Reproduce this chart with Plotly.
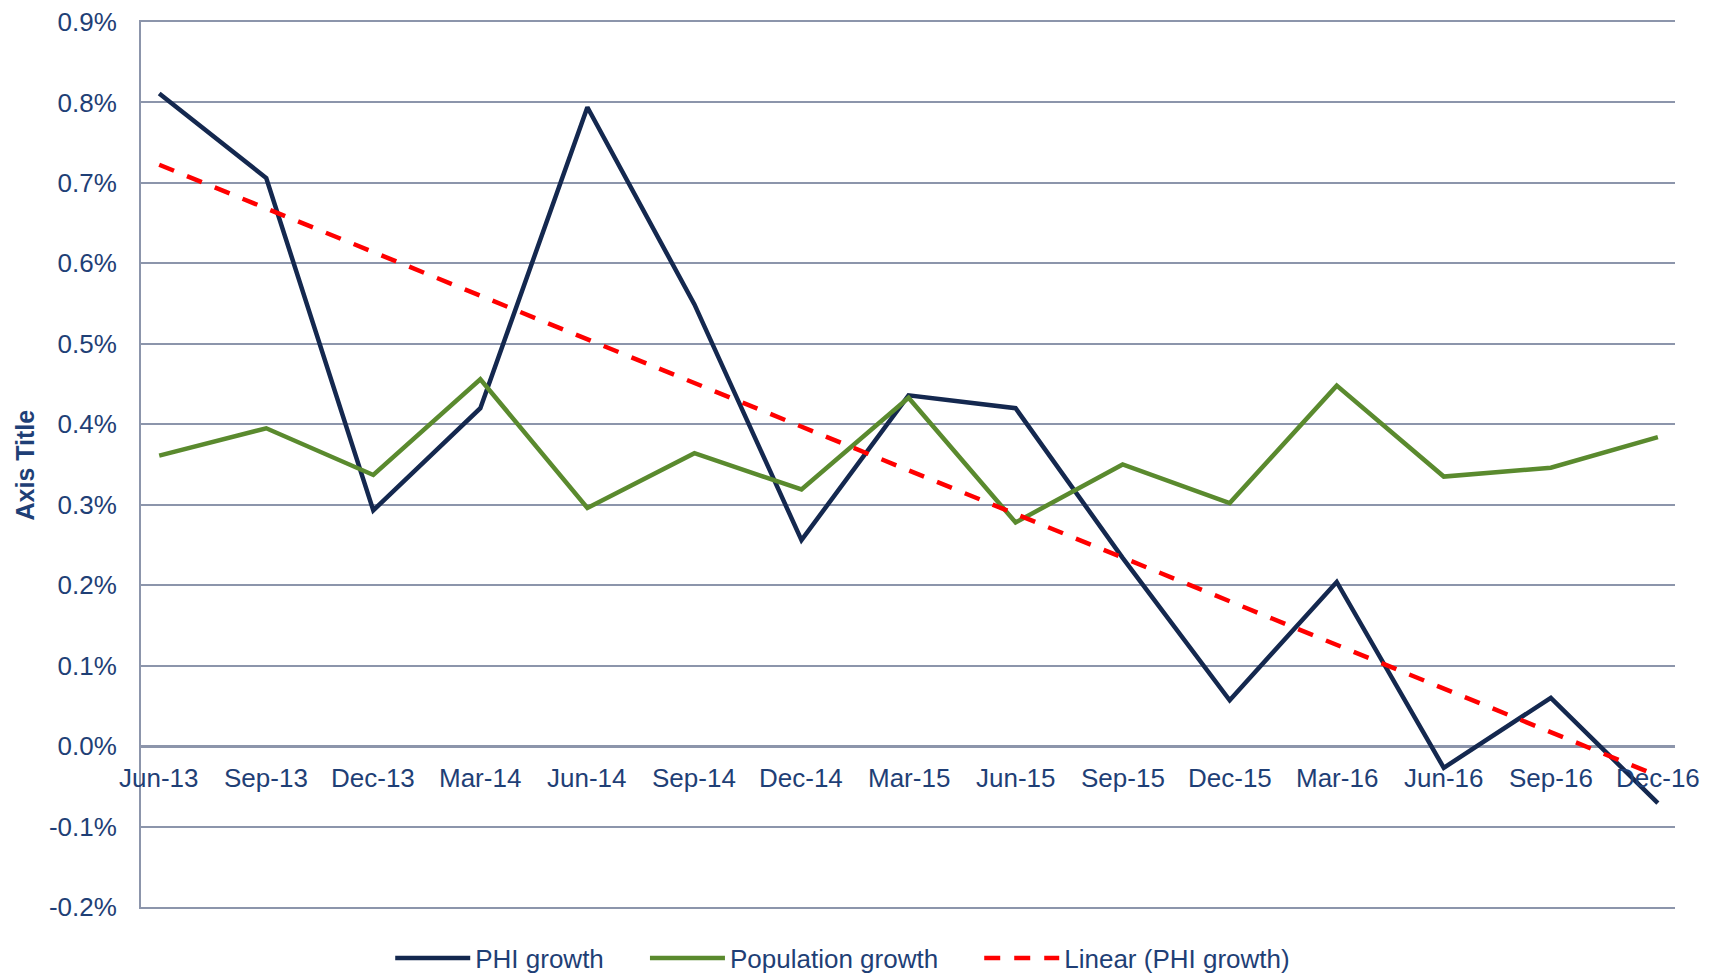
import numpy as np
import plotly.graph_objects as go

quarters = ["Jun-13", "Sep-13", "Dec-13", "Mar-14", "Jun-14", "Sep-14", "Dec-14", "Mar-15",
            "Jun-15", "Sep-15", "Dec-15", "Mar-16", "Jun-16", "Sep-16", "Dec-16"]
phi_growth = [0.811, 0.706, 0.293, 0.420, 0.794, 0.549, 0.256, 0.436,
              0.420, 0.234, 0.057, 0.204, -0.027, 0.060, -0.071]
population_growth = [0.361, 0.395, 0.337, 0.456, 0.296, 0.364, 0.319, 0.433,
                     0.278, 0.350, 0.302, 0.448, 0.335, 0.346, 0.384]
y_ticks = [-0.2, -0.1, 0.0, 0.1, 0.2, 0.3, 0.4, 0.5, 0.6, 0.7, 0.8, 0.9]
series_names = ["PHI growth", "Population growth", "Linear (PHI growth)"]

idx = np.arange(len(quarters))
slope, intercept = np.polyfit(idx, phi_growth, 1)
trend = slope * idx + intercept

TEXT = "#1F3F76"
GRID = "#8C95AB"
FONT = "Liberation Sans, Arial, sans-serif"

# page body has an 8px margin: compensate
W, H = 1707, 966
L, T = 133, 14
PW, PH = 1534, 885
PAD = "&nbsp;" * 5

fig = go.Figure()
fig.add_trace(go.Scatter(x=idx, y=phi_growth, mode="lines", name=series_names[0] + PAD,
                         line=dict(color="#14284F", width=4.5)))
fig.add_trace(go.Scatter(x=idx, y=population_growth, mode="lines", name=series_names[1] + PAD,
                         line=dict(color="#5A8A2E", width=4.5)))
fig.add_trace(go.Scatter(x=idx, y=trend, mode="lines", name=series_names[2],
                         line=dict(color="#FF0000", width=4.5, dash="16px,14px")))

for i, q in enumerate(quarters):
    fig.add_annotation(x=i, y=0, xref="x", yref="y", text=q, showarrow=False,
                       yanchor="middle", xanchor="center", yshift=-32,
                       font=dict(family=FONT, size=26, color=TEXT))

fig.add_annotation(x=(24 - 8 - L) / PW, y=0.5, xref="paper", yref="paper",
                   text="<b>Axis Title</b>", textangle=-90, showarrow=False,
                   xanchor="center", yanchor="middle",
                   font=dict(family=FONT, size=25, color=TEXT))

fig.update_layout(
    width=W, height=H,
    paper_bgcolor="white", plot_bgcolor="white",
    margin=dict(l=L, r=W - L - PW, t=T, b=H - T - PH, autoexpand=False),
    font=dict(family=FONT, size=26, color=TEXT),
    showlegend=True,
    legend=dict(orientation="h", xref="container", yref="container",
                x=0.489, xanchor="center", y=1 - 950 / H, yanchor="middle",
                font=dict(family=FONT, size=26, color=TEXT), tracegroupgap=0,
                itemwidth=75),
    xaxis=dict(range=[-0.17, 14.16], showgrid=False, showticklabels=False,
               zeroline=False, showline=True, mirror=True, linecolor=GRID, linewidth=2,
               ticks="", automargin=False),
    yaxis=dict(range=[-0.2, 0.9], tickvals=y_ticks, ticktext=[f"{v:.1f}%" for v in y_ticks],
               showgrid=True, gridcolor=GRID, gridwidth=2,
               zeroline=True, zerolinecolor=GRID, zerolinewidth=3,
               showline=True, linecolor=GRID, linewidth=2, ticks="", ticklen=0,
               ticklabelstandoff=17, ticklabeloverflow="allow", automargin=False,
               tickfont=dict(family=FONT, size=26, color=TEXT)),
)

fig.write_html("out.html")
